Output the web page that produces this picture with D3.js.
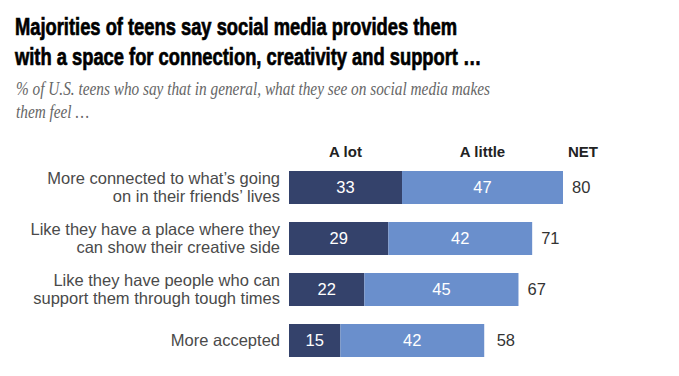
<!DOCTYPE html>
<html>
<head>
<meta charset="utf-8">
<script src="https://cdn.jsdelivr.net/npm/d3@7"></script>
<style>
  body { margin: 0; background: #fff; }
  svg { display: block; }
</style>
</head>
<body>
<div id="chart"></div>
<script>
let categories = [
  ['More connected to what\u2019s going', 'on in their friends\u2019 lives'],
  ['Like they have a place where they', 'can show their creative side'],
  ['Like they have people who can', 'support them through tough times'],
  ['More accepted']
]
let aLot = [33, 29, 22, 15]
let aLittle = [47, 42, 45, 42]
let net = [80, 71, 67, 58]
let headers = ['A lot', 'A little', 'NET']

let width = 679,
  height = 376

let svg = d3
  .select('#chart')
  .append('svg')
  .attr('width', width)
  .attr('height', height)

// squeeze a group of lines by the same factor so the first one fits
function fitLines(g, first, target) {
  let texts = g.selectAll('text')
  let k = target / texts.nodes()[first].getComputedTextLength()
  texts.each(function() {
    let w = this.getComputedTextLength()
    d3.select(this).attr('textLength', w * k).attr('lengthAdjust', 'spacingAndGlyphs')
  })
}

// title (stroke to get the heavy look of the original)
let title = svg.append('g').attr('font-family', "'Liberation Sans', Arial, sans-serif")
  .attr('font-weight', 'bold')
  .attr('font-size', 24)
  .attr('fill', '#000')
  .attr('stroke', '#000')
  .attr('stroke-width', 0.7)
title.append('text').attr('x', 15).attr('y', 35)
  .text('Majorities of teens say social media provides them')
title.append('text').attr('x', 15).attr('y', 65)
  .text('with a space for connection, creativity and support \u2026')
fitLines(title, 0, 442)

// subtitle
let sub = svg.append('g').attr('font-family', "'Liberation Serif', serif")
  .attr('font-style', 'italic')
  .attr('font-size', 19)
  .attr('fill', '#666')
sub.append('text').attr('x', 16).attr('y', 95)
  .text('% of U.S. teens who say that in general, what they see on social media makes')
sub.append('text').attr('x', 16).attr('y', 118)
  .text('them feel \u2026')
fitLines(sub, 0, 474)

// scales
let x = d3.scaleLinear().domain([0, 80]).range([289, 563])
let y = d3
  .scaleBand()
  .domain(d3.range(categories.length))
  .range([162, 366])
  .paddingInner(0.353)
  .paddingOuter(0.1765)

let dark = '#34426b'
let light = '#6a8fcc'
let font = "'Liberation Sans', Arial, sans-serif"

// headers
let headerX = [(x(0) + x(aLot[0])) / 2, (x(aLot[0]) + x(net[0])) / 2, x(net[0]) + 20]
svg
  .append('g')
  .selectAll('text')
  .data(headers)
  .enter()
  .append('text')
  .attr('x', function(d, i) { return headerX[i] })
  .attr('y', 157)
  .attr('text-anchor', 'middle')
  .attr('font-family', font)
  .attr('font-weight', 'bold')
  .attr('font-size', 15)
  .attr('fill', '#222')
  .text(function(d) { return d })

let rows = svg
  .append('g')
  .selectAll('g')
  .data(categories)
  .enter()
  .append('g')
  .attr('transform', function(d, i) { return 'translate(0,' + y(i) + ')' })

rows
  .append('rect')
  .attr('x', x(0))
  .attr('y', 0)
  .attr('width', function(d, i) { return x(aLot[i]) - x(0) })
  .attr('height', y.bandwidth())
  .attr('fill', dark)

rows
  .append('rect')
  .attr('x', function(d, i) { return x(aLot[i]) })
  .attr('y', 0)
  .attr('width', function(d, i) { return x(aLot[i] + aLittle[i]) - x(aLot[i]) })
  .attr('height', y.bandwidth())
  .attr('fill', light)

rows
  .append('text')
  .attr('x', function(d, i) { return (x(0) + x(aLot[i])) / 2 })
  .attr('y', y.bandwidth() / 2)
  .attr('dy', '.35em')
  .attr('text-anchor', 'middle')
  .attr('font-family', font)
  .attr('font-size', 16.5)
  .attr('fill', '#fff')
  .text(function(d, i) { return aLot[i] })

rows
  .append('text')
  .attr('x', function(d, i) { return (x(aLot[i]) + x(aLot[i] + aLittle[i])) / 2 })
  .attr('y', y.bandwidth() / 2)
  .attr('dy', '.35em')
  .attr('text-anchor', 'middle')
  .attr('font-family', font)
  .attr('font-size', 16.5)
  .attr('fill', '#fff')
  .text(function(d, i) { return aLittle[i] })

rows
  .append('text')
  .attr('x', function(d, i) { return x(net[i]) + 9 })
  .attr('y', y.bandwidth() / 2)
  .attr('dy', '.35em')
  .attr('font-family', font)
  .attr('font-size', 16.5)
  .attr('fill', '#333')
  .text(function(d, i) { return net[i] })

// category labels
rows
  .append('text')
  .attr('text-anchor', 'end')
  .attr('font-family', font)
  .attr('font-size', 16.5)
  .attr('fill', '#4a4a4a')
  .each(function(d) {
    let t = d3.select(this)
    let start = y.bandwidth() / 2 - (d.length - 1) * 9
    d.forEach(function(line, j) {
      t.append('tspan')
        .attr('x', 280)
        .attr('y', start + j * 18)
        .attr('dy', '.35em')
        .text(line)
    })
  })
</script>
</body>
</html>
